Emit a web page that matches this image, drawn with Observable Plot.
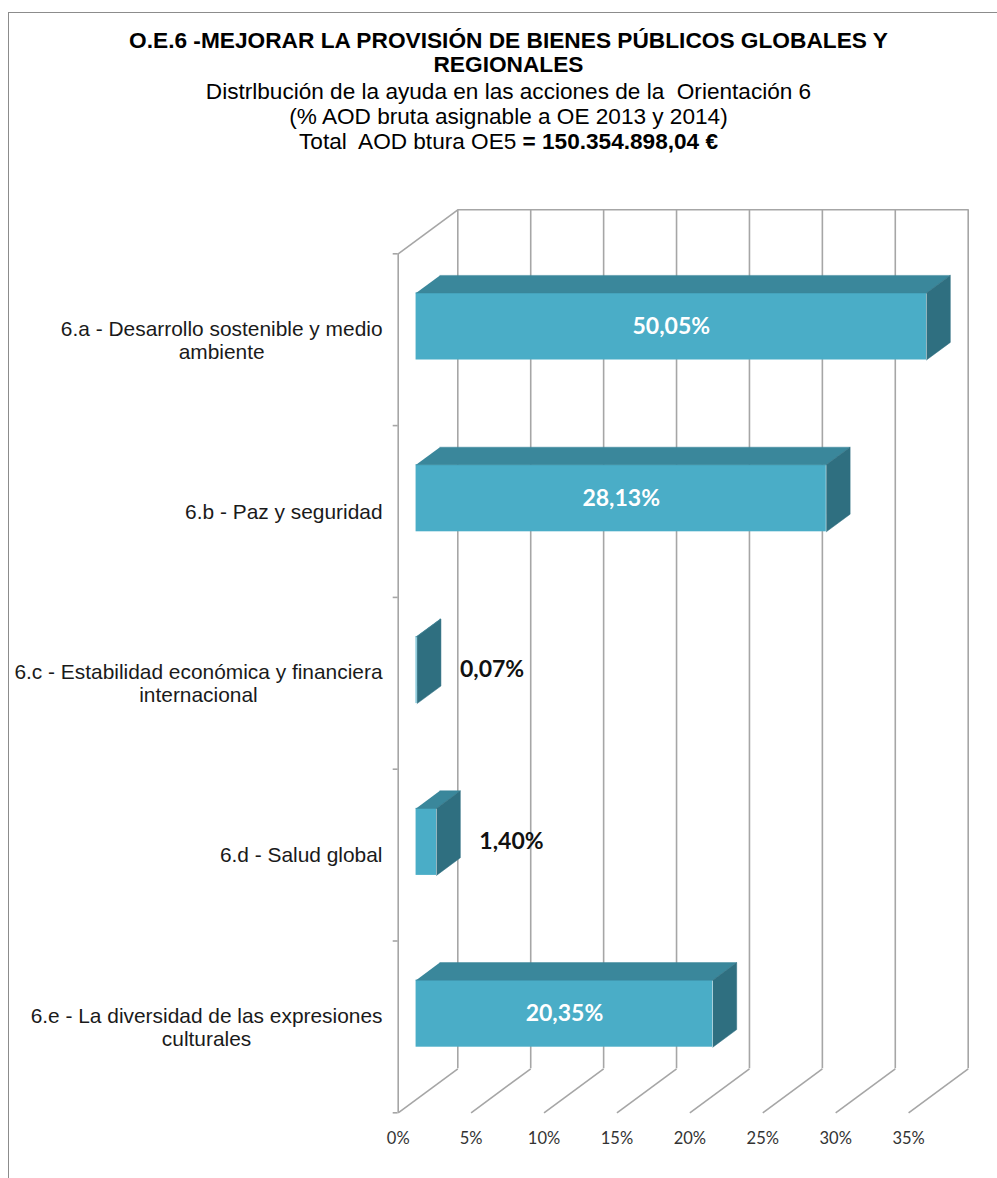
<!DOCTYPE html>
<html><head><meta charset="utf-8">
<script src="https://cdn.jsdelivr.net/npm/d3@7"></script>
<script src="https://cdn.jsdelivr.net/npm/@observablehq/plot@0.6"></script>
<style>
html,body{margin:0;padding:0;background:#fff;overflow:hidden;width:997px;height:1178px;}
#frame{position:absolute;left:8px;top:12px;width:1200px;height:1400px;border-left:1.5px solid #8c8c8c;border-top:1.5px solid #8c8c8c;}
#titles{position:absolute;left:10px;top:0;width:997px;text-align:center;font-family:"Liberation Sans",Arial,sans-serif;color:#000;}
.t1{font-weight:bold;font-size:22.7px;line-height:24px;}
.t2{font-size:22.6px;line-height:25px;white-space:pre;}
#chart{position:absolute;left:0;top:160px;}
</style></head><body>
<div id="frame"></div>
<div id="titles">
 <div class="t1" style="padding-top:28px">O.E.6 -MEJORAR LA PROVISIÓN DE BIENES PÚBLICOS GLOBALES Y<br>REGIONALES</div>
 <div class="t2" style="margin-top:3px">Distrlbución de la ayuda en las acciones de la  Orientación 6</div>
 <div class="t2">(% AOD bruta asignable a OE 2013 y 2014)</div>
 <div class="t2">Total  AOD btura OE5 <b>= 150.354.898,04 €</b></div>
</div>
<div id="chart"></div>
<script>
// ---- data ----
const categories = [
  "6.a - Desarrollo sostenible y medio\nambiente",
  "6.b - Paz y seguridad",
  "6.c - Estabilidad económica y financiera\ninternacional",
  "6.d - Salud global",
  "6.e - La diversidad de las expresiones\nculturales"
];
const values = [50.05, 28.13, 0.07, 1.40, 20.35];
const xTicks = [0, 5, 10, 15, 20, 25, 30, 35];
const xMax = 35;

// ---- layout ----
const W = 997, H = 1018, TOP = 160;
const x0px = 397.7, xEndPx = 908.1;
const yTopPx = 253.3 - TOP, yBotPx = 1112.3 - TOP;
const pxPerX = (xEndPx - x0px) / xMax;
const nCat = categories.length;
const pxPerY = (yBotPx - yTopPx) / nCat;
// 3D wall depth, expressed in data units
const DX = 59.6 / pxPerX, DY = -44 / pxPerY;
const F0 = 0.3, F1 = 0.7, dD = F1 - F0;   // bar depth range (fraction of wall depth)
const HALF = 33.5 / pxPerY;               // half bar thickness

const grid = "#a6a6a6";
const cFront = "#4aadc7", cTop = "#3a879b", cSide = "#2f6f80";
const fmt = v => v.toFixed(2).replace(".", ",") + "%";

const bars = values.map((v, i) => {
  const c = Math.min(v, xMax);
  const yc = i + 0.5 + F0 * DY;
  return {i, v, x1: F0 * DX, x2: c + F0 * DX, yc, yT: yc - HALF, yB: yc + HALF};
});
const topFaces = bars.flatMap(b => [
  {k: b.i, x: b.x1, y: b.yT}, {k: b.i, x: b.x2, y: b.yT},
  {k: b.i, x: b.x2 + dD * DX, y: b.yT + dD * DY}, {k: b.i, x: b.x1 + dD * DX, y: b.yT + dD * DY}
]);
const sideFaces = bars.flatMap(b => [
  {k: b.i, x: b.x2, y: b.yT}, {k: b.i, x: b.x2 + dD * DX, y: b.yT + dD * DY},
  {k: b.i, x: b.x2 + dD * DX, y: b.yB + dD * DY}, {k: b.i, x: b.x2, y: b.yB}
]);

// category label block centring (lines centred, block right-aligned)
const catFont = 20.9;
const ctx = document.createElement("canvas").getContext("2d");
ctx.font = `${catFont}px "Liberation Sans"`;
const labelRight = 382;
const catData = categories.map((s, i) => {
  const w = Math.max(...s.split("\n").map(l => ctx.measureText(l).width));
  return {s, y: i + 0.5, x: (labelRight - w / 2 - x0px) / pxPerX};
});

const walls = [
  {x1: 0, y1: 0, x2: DX, y2: DY},
  {x1: DX, y1: DY, x2: xMax + DX, y2: DY}
];

const chart = Plot.plot({
  width: W, height: H,
  marginLeft: x0px, marginRight: W - xEndPx, marginTop: yTopPx, marginBottom: H - yBotPx,
  style: {background: "transparent", overflow: "visible"},
  x: {domain: [0, xMax], axis: null},
  y: {domain: [0, nCat], reverse: true, axis: null},
  marks: [
    Plot.ruleX(xTicks, {x: d => d + DX, y1: () => DY, y2: () => nCat + DY, stroke: grid, strokeWidth: 1.6}),
    Plot.link(xTicks, {x1: d => d, y1: () => nCat, x2: d => d + DX, y2: () => nCat + DY, stroke: grid, strokeWidth: 1.6}),
    Plot.link(walls, {x1: "x1", y1: "y1", x2: "x2", y2: "y2", stroke: grid, strokeWidth: 1.6}),
    Plot.ruleX([0], {y1: () => 0, y2: () => nCat, stroke: grid, strokeWidth: 1.6}),
    Plot.axisY({ticks: d3.range(nCat + 1), tickSize: 5, tickFormat: () => "", stroke: grid, strokeWidth: 1.6, label: null}),
    Plot.rect(bars, {x1: "x1", x2: "x2", y1: "yT", y2: "yB", fill: cFront}),
    Plot.line(topFaces, {x: "x", y: "y", z: "k", fill: cTop, stroke: cTop, strokeWidth: 0.5}),
    Plot.line(sideFaces, {x: "x", y: "y", z: "k", fill: cSide, stroke: cSide, strokeWidth: 0.5}),
    Plot.text(bars.filter(b => b.v >= 5), {x: b => (b.x1 + b.x2) / 2, y: "yc", text: b => fmt(b.v),
      fill: "white", fontWeight: "bold", fontSize: 23, fontFamily: "Lato"}),
    Plot.text(bars.filter(b => b.v < 5), {x: b => b.x2 + dD * DX, y: "yc", text: b => fmt(b.v),
      textAnchor: "start", dx: 19, fill: "#111", fontWeight: "bold", fontSize: 23, fontFamily: "Lato"}),
    Plot.text(catData, {x: "x", y: "y", text: "s", textAnchor: "middle", lineHeight: 1.1,
      fontSize: catFont, fontFamily: "Liberation Sans", fill: "#1a1a1a"}),
    Plot.text(xTicks, {x: d => d, y: () => nCat, text: d => d + "%", dy: 25.7,
      fontSize: 16.5, fontFamily: "Lato", fill: "#333"})
  ]
});
document.getElementById("chart").appendChild(chart);
</script>
</body></html>
